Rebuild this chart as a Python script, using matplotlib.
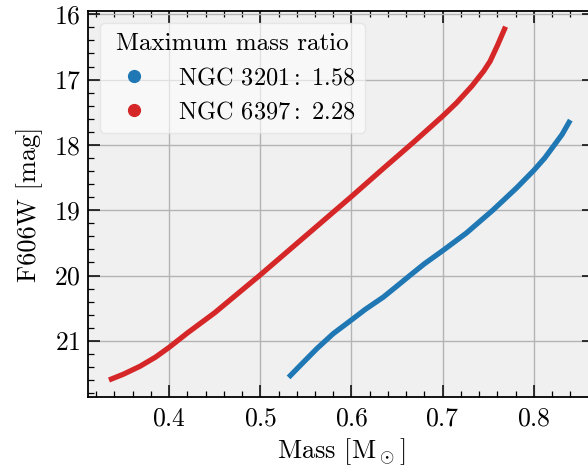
"""Mass vs F606W magnitude for NGC 3201 and NGC 6397."""
import numpy as np
import matplotlib
matplotlib.use('Agg')
import matplotlib.pyplot as plt
from matplotlib.lines import Line2D
from matplotlib.ticker import MultipleLocator

# values
MASS_3201 = [0.531, 0.545, 0.562, 0.580, 0.600, 0.615, 0.635, 0.650, 0.664, 0.680, 0.700,
             0.726, 0.755, 0.781, 0.800, 0.812, 0.821, 0.831, 0.840]
MAG_3201 = [21.56, 21.36, 21.12, 20.89, 20.68, 20.52, 20.33, 20.16, 20.00, 19.82, 19.62,
            19.35, 19.00, 18.66, 18.39, 18.20, 18.03, 17.84, 17.62]

MASS_6397 = [0.334, 0.350, 0.368, 0.385, 0.400, 0.420, 0.450, 0.475, 0.500, 0.525, 0.555,
             0.580, 0.600, 0.635, 0.668, 0.700, 0.715, 0.732, 0.745, 0.752, 0.760, 0.769]
MAG_6397 = [21.60, 21.51, 21.39, 21.25, 21.10, 20.88, 20.57, 20.28, 19.99, 19.69, 19.33,
            19.03, 18.79, 18.36, 17.96, 17.56, 17.36, 17.10, 16.87, 16.72, 16.48, 16.19]

LABELS = [r'NGC 3201$\,$:$\,$ 1.58', r'NGC 6397$\,$:$\,$ 2.28']
COLORS = ['#1f77b4', '#d62728']

plt.rcParams['font.family'] = 'serif'
plt.rcParams['font.serif'] = ['cmr10']
plt.rcParams['mathtext.fontset'] = 'cm'
plt.rcParams['axes.formatter.use_mathtext'] = True
plt.rcParams['axes.unicode_minus'] = False

fig = plt.figure(figsize=(5.88, 4.66), dpi=100)
ax = fig.add_axes([88 / 588, 69 / 466, 506 / 588, 386 / 466])
ax.set_facecolor('#f0f0f0')

ax.plot(MASS_3201, MAG_3201, color=COLORS[0], lw=3.8, solid_capstyle='butt')
ax.plot(MASS_6397, MAG_6397, color=COLORS[1], lw=3.8, solid_capstyle='butt')

ax.set_xlim(0.311, 0.866)
ax.set_ylim(21.86, 15.95)

ax.xaxis.set_major_locator(MultipleLocator(0.1))
ax.xaxis.set_minor_locator(MultipleLocator(0.02))
ax.yaxis.set_major_locator(MultipleLocator(1))
ax.yaxis.set_minor_locator(MultipleLocator(0.2))
ax.tick_params(which='both', direction='in', top=True, right=True, labelsize=18.5)
ax.tick_params(which='major', length=8.5, width=1.1)
ax.tick_params(which='minor', length=4.5, width=0.9)
ax.tick_params(axis='x', pad=7)
ax.tick_params(axis='y', pad=5)
for s in ax.spines.values():
    s.set_linewidth(1.3)

ax.grid(True, which='major', color='#b4b4b4', lw=1.0)
ax.set_axisbelow(True)

ax.set_xlabel(r'Mass [M$_\odot$]', fontsize=19, labelpad=4)
ax.set_ylabel('F606W [mag]', fontsize=19, labelpad=8)

handles = [Line2D([], [], ls='none', marker='o', ms=8.5, color=c) for c in COLORS]
leg = ax.legend(handles, LABELS, title='Maximum mass ratio', loc='upper left',
                fontsize=17.5, title_fontsize=18, framealpha=0.6, edgecolor='#dddddd')

fig.savefig('out.png', dpi=100)
